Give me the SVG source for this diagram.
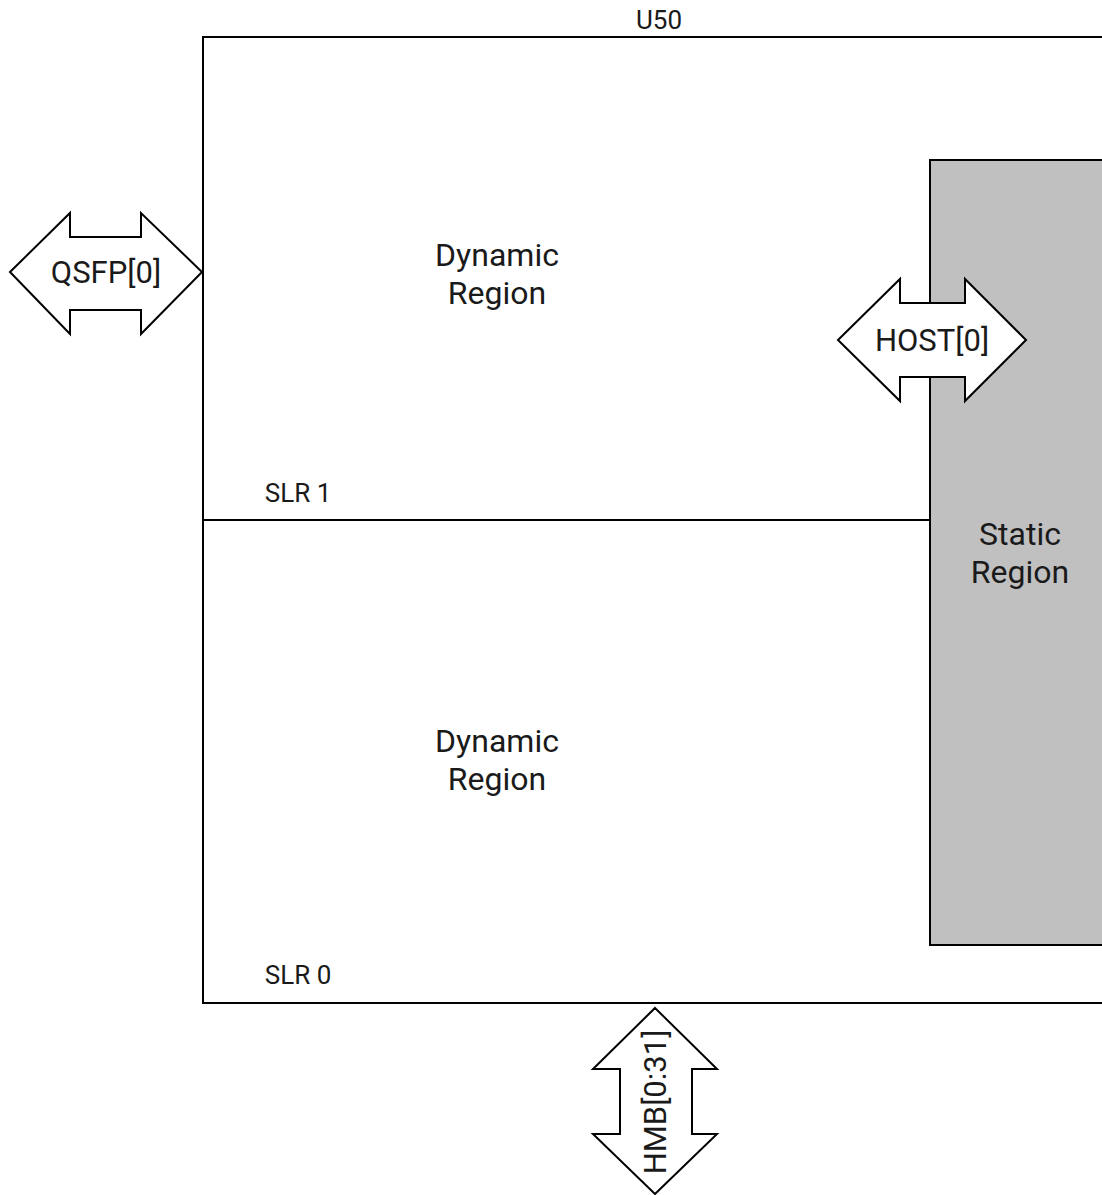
<svg xmlns="http://www.w3.org/2000/svg" width="1102" height="1195" viewBox="0 0 1102 1195">
<style>
.ln{fill:none;stroke:#000;stroke-width:2}
.arr{fill:#fff;stroke:#000;stroke-width:2}
.t{font-family:Roboto,"Liberation Sans",sans-serif;fill:#1a1a1a;text-anchor:middle}
.big{font-size:32px}
.sm{font-size:26px}
.mid{font-size:31px}
</style>
<rect width="1102" height="1195" fill="#fff"/>
<g id="u50">
<rect class="ln" x="203" y="37" width="920" height="966"/>
<text class="t sm" x="659" y="29">U50</text>
</g>
<g id="static">
<rect x="930" y="160" width="200" height="785" fill="#c0c0c0" stroke="#000" stroke-width="2"/>
<text class="t big" x="1020" y="545">Static</text>
<text class="t big" x="1020" y="583">Region</text>
</g>
<g id="slr1">
<line class="ln" x1="203" y1="520" x2="930" y2="520"/>
<text class="t big" x="497" y="266">Dynamic</text>
<text class="t big" x="497" y="304">Region</text>
<text class="t sm" x="298" y="502">SLR 1</text>
</g>
<g id="slr0">
<text class="t big" x="497" y="752">Dynamic</text>
<text class="t big" x="497" y="790">Region</text>
<text class="t sm" x="298" y="984">SLR 0</text>
</g>
<g id="connectors">
<g id="qsfp">
<polygon class="arr" points="10,272 70,213 70,237 141,237 141,213 202,272 141,334 141,310 70,310 70,334"/>
<text class="t mid" x="106" y="283">QSFP[0]</text>
</g>
<g id="host">
<polygon class="arr" points="838,340 900,279 900,303 965,303 965,279 1026,340 965,401 965,377 900,377 900,401"/>
<text class="t mid" x="932" y="351">HOST[0]</text>
</g>
<g id="hmb">
<polygon class="arr" points="655,1008 717,1069 692,1069 692,1134 717,1134 655,1194 593,1134 620,1134 620,1069 593,1069"/>
<text class="t mid" transform="translate(666,1102) rotate(-90)" x="0" y="0">HMB[0:31]</text>
</g>
</g>
</svg>
